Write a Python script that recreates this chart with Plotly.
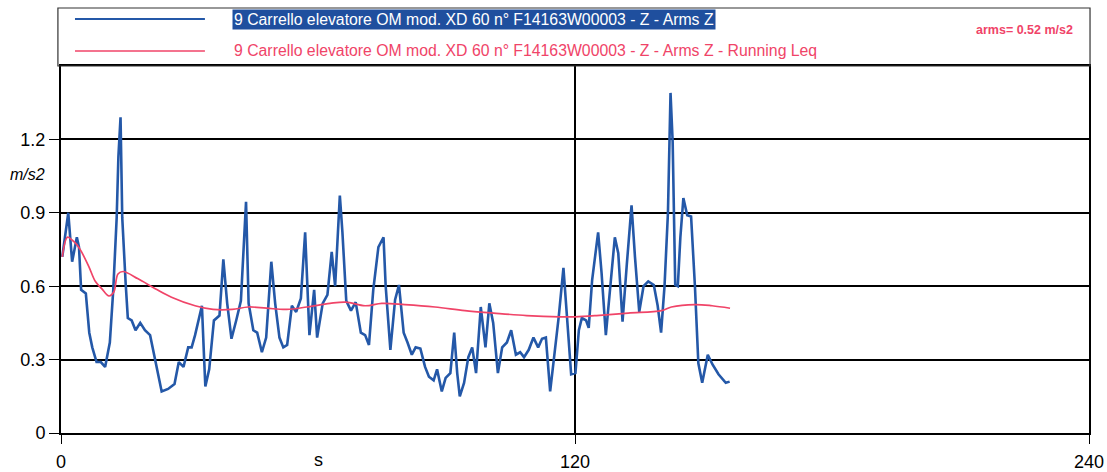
import plotly.graph_objects as go

# Arms Z, sampled per second (time in s, acceleration in m/s2)
arms_t = [0.3, 1.7, 2.6, 3.1, 3.7, 4.2, 4.7, 5.8, 6.6, 7.3, 8.3, 9.3, 10.3, 11.4, 12.2, 13.0, 13.4, 13.9,
          14.3, 15.1, 15.6, 16.5, 17.4, 18.5, 19.6, 20.8, 21.9, 23.5, 25.0, 26.5, 27.5, 28.6, 29.7, 30.5,
          31.3, 32.9, 33.4, 33.7, 34.6, 35.7, 37.0, 37.9, 38.8, 39.8, 40.9, 42.0, 43.2, 43.8, 44.9, 45.8,
          46.9, 47.9, 49.1, 50.0, 51.0, 51.9, 52.8, 53.9, 54.9, 56.0, 57.0, 58.0, 59.1, 59.8, 61.1, 62.2,
          63.2, 64.0, 65.1, 65.7, 66.6, 67.7, 68.8, 70.0, 71.0, 71.9, 72.9, 74.1, 75.3, 75.8, 76.9, 78.0,
          78.9, 80.0, 80.9, 81.9, 82.8, 83.9, 85.0, 85.9, 87.0, 87.8, 88.9, 89.8, 90.9, 91.8, 92.5, 93.1,
          94.1, 95.1, 96.0, 96.9, 98.0, 99.1, 100.0, 100.9, 102.0, 103.0, 104.1, 105.1, 106.2, 107.2,
          108.1, 109.2, 110.3, 111.4, 112.3, 113.2, 114.2, 115.1, 116.2, 117.3, 118.2, 119.1, 120.1,
          120.9, 121.6, 122.6, 123.2, 124.0, 125.4, 126.2, 127.2, 128.3, 129.3, 130.1, 131.1, 132.1,
          133.2, 134.0, 135.0, 136.0, 137.1, 138.4, 139.3, 140.1, 140.9, 141.7, 142.3, 142.8, 143.4,
          144.0, 144.6, 145.3, 146.2, 147.1, 148.0, 148.8, 149.7, 151.0, 152.1, 153.5, 155.2, 156.1]
arms_z = [0.72, 0.90, 0.70, 0.75, 0.80, 0.76, 0.585, 0.57, 0.41, 0.35, 0.29, 0.29, 0.27, 0.37, 0.585, 0.88,
          1.13, 1.29, 0.88, 0.61, 0.47, 0.46, 0.42, 0.45, 0.42, 0.40, 0.31, 0.17, 0.18, 0.20, 0.29, 0.27,
          0.35, 0.35, 0.40, 0.52, 0.31, 0.19, 0.26, 0.46, 0.48, 0.71, 0.53, 0.385, 0.46, 0.54, 0.945, 0.53,
          0.42, 0.41, 0.33, 0.39, 0.70, 0.53, 0.39, 0.35, 0.36, 0.52, 0.495, 0.55, 0.82, 0.40, 0.585, 0.39,
          0.53, 0.565, 0.74, 0.60, 0.97, 0.82, 0.54, 0.50, 0.535, 0.41, 0.40, 0.36, 0.585, 0.76, 0.80,
          0.60, 0.34, 0.545, 0.605, 0.41, 0.37, 0.32, 0.35, 0.345, 0.27, 0.23, 0.215, 0.26, 0.17, 0.225,
          0.245, 0.41, 0.245, 0.15, 0.205, 0.31, 0.35, 0.245, 0.515, 0.35, 0.53, 0.45, 0.245, 0.35, 0.37,
          0.42, 0.32, 0.33, 0.31, 0.34, 0.39, 0.35, 0.385, 0.39, 0.17, 0.31, 0.475, 0.675, 0.45, 0.24,
          0.245, 0.42, 0.47, 0.46, 0.43, 0.625, 0.82, 0.655, 0.40, 0.625, 0.80, 0.735, 0.455, 0.69, 0.93,
          0.72, 0.495, 0.60, 0.62, 0.605, 0.52, 0.41, 0.60, 0.90, 1.39, 1.19, 0.605, 0.60, 0.80, 0.96,
          0.89, 0.885, 0.60, 0.285, 0.205, 0.32, 0.28, 0.24, 0.205, 0.21]

# Running Leq of Arms Z
leq_t = [0.3, 1.5, 2.5, 3.7, 4.8, 6.5, 8.0, 9.5, 11.2, 12.3, 13.3, 14.5, 18.0, 22.0, 25.8, 31.3, 35.5,
         40.0, 43.7, 48.0, 52.7, 57.4, 62.8, 66.5, 71.0, 74.9, 80.3, 87.3, 94.3, 101.0, 108.7, 116.5,
         120.0, 125.0, 132.4, 140.2, 142.5, 148.0, 152.0, 156.2]
leq_z = [0.72, 0.80, 0.79, 0.77, 0.74, 0.68, 0.62, 0.59, 0.56, 0.575, 0.65, 0.66, 0.63, 0.59, 0.555, 0.52,
         0.505, 0.505, 0.515, 0.51, 0.505, 0.515, 0.53, 0.535, 0.52, 0.53, 0.525, 0.515, 0.50, 0.49,
         0.48, 0.475, 0.475, 0.48, 0.49, 0.50, 0.515, 0.525, 0.52, 0.51]

y_ticks = [0, 0.3, 0.6, 0.9, 1.2]
y_labels = ["0", "0.3", "0.6", "0.9", "1.2"]
x_ticks = [0, 120, 240]
x_labels = ["0", "120", "240"]

name_arms = "9 Carrello elevatore OM mod. XD 60 n° F14163W00003 - Z - Arms Z"
name_leq = "9 Carrello elevatore OM mod. XD 60 n° F14163W00003 - Z - Arms Z - Running Leq"
arms_total = "arms= 0.52 m/s2"

BLUE = "#2458a8"
RED = "#f04468"
FONT = "Liberation Sans, Arial, sans-serif"

fig = go.Figure()
fig.add_trace(go.Scatter(x=arms_t, y=arms_z, mode="lines", name=name_arms,
                         line=dict(color=BLUE, width=2.6), showlegend=False))
fig.add_trace(go.Scatter(x=leq_t, y=leq_z, mode="lines", name=name_leq,
                         line=dict(color=RED, width=1.7, shape="spline"), showlegend=False))

# legend frame and sample lines
fig.add_shape(type="rect", xref="paper", yref="paper", x0=-0.003, x1=1.001, y0=1.0, y1=1.158,
              line=dict(color="#333333", width=1.2), fillcolor="rgba(0,0,0,0)")
fig.add_shape(type="line", xref="paper", yref="paper", x0=0.0136, x1=0.140, y0=1.128, y1=1.128,
              line=dict(color=BLUE, width=2))
fig.add_shape(type="line", xref="paper", yref="paper", x0=0.0136, x1=0.140, y0=1.041, y1=1.041,
              line=dict(color=RED, width=1.6))
fig.add_annotation(xref="paper", yref="paper", x=0.166, y=1.128, xanchor="left", yanchor="middle",
                   text=name_arms, showarrow=False, bgcolor="#1f4f9e", borderpad=1,
                   font=dict(family=FONT, size=15.8, color="white"))
fig.add_annotation(xref="paper", yref="paper", x=0.166, y=1.041, xanchor="left", yanchor="middle",
                   text=name_leq, showarrow=False,
                   font=dict(family=FONT, size=15.8, color=RED))
fig.add_annotation(xref="paper", yref="paper", x=0.986, y=1.098, xanchor="right", yanchor="middle",
                   text="<b>" + arms_total + "</b>", showarrow=False,
                   font=dict(family=FONT, size=12.5, color=RED))

# axis unit labels
fig.add_annotation(xref="paper", yref="paper", x=-0.033, y=0.703, xanchor="center", yanchor="middle",
                   text="<i>m/s2</i>", showarrow=False, font=dict(family=FONT, size=16, color="black"))
fig.add_annotation(xref="x", yref="paper", x=60, y=-0.074, xanchor="center", yanchor="middle",
                   text="s", showarrow=False, font=dict(family=FONT, size=18, color="black"))

fig.update_xaxes(range=[0, 240], tickvals=x_ticks, ticktext=x_labels, showgrid=True,
                 gridcolor="black", gridwidth=1.5, showline=True, mirror=True, linecolor="black",
                 linewidth=2, ticks="outside", ticklen=9, tickcolor="black", zeroline=False,
                 ticklabelstandoff=2,
                 automargin=False, tickfont=dict(family=FONT, size=18, color="black"))
fig.update_yaxes(range=[0, 1.5], tickvals=y_ticks, ticktext=y_labels, showgrid=True,
                 gridcolor="black", gridwidth=2, showline=True, mirror=True, linecolor="black",
                 linewidth=2, ticks="outside", ticklen=10, tickcolor="black", zeroline=False,
                 automargin=False, tickfont=dict(family=FONT, size=18, color="black"))

fig.update_layout(width=1107, height=472, margin=dict(l=61, r=18, t=66, b=39, autoexpand=False),
                  paper_bgcolor="white", plot_bgcolor="white")

fig.write_html("out.html")
